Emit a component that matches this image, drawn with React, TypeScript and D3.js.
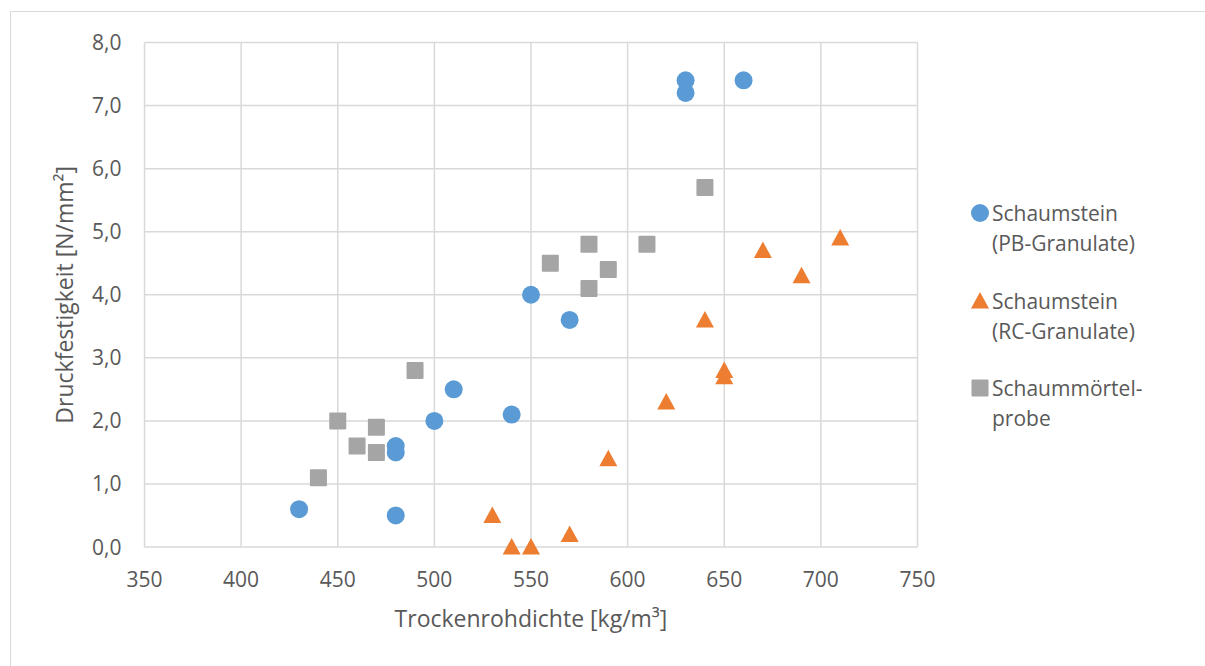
import React from "react";
import * as d3 from "d3";

const W = 1205;
const H = 666;

// Schaumstein (PB-Granulate)
const pbDensity = [430, 480, 480, 480, 500, 510, 540, 550, 570, 630, 630, 660];
const pbStrength = [0.6, 0.5, 1.6, 1.5, 2.0, 2.5, 2.1, 4.0, 3.6, 7.4, 7.2, 7.4];

// Schaumstein (RC-Granulate)
const rcDensity = [530, 540, 550, 570, 590, 620, 640, 650, 650, 670, 690, 710];
const rcStrength = [0.5, 0.0, 0.0, 0.2, 1.4, 2.3, 3.6, 2.8, 2.7, 4.7, 4.3, 4.9];

// Schaummörtelprobe
const smDensity = [440, 450, 460, 470, 470, 490, 560, 580, 580, 590, 610, 640];
const smStrength = [1.1, 2.0, 1.6, 1.9, 1.5, 2.8, 4.5, 4.8, 4.1, 4.4, 4.8, 5.7];

const xTicks = [350, 400, 450, 500, 550, 600, 650, 700, 750];
const yTicks = [0, 1, 2, 3, 4, 5, 6, 7, 8];

const xTitle = "Trockenrohdichte [kg/m³]";
const yTitle = "Druckfestigkeit [N/mm²]";

const legendItems = [
  { lines: ["Schaumstein", "(PB-Granulate)"], shape: "circle", color: "#5B9BD5" },
  { lines: ["Schaumstein", "(RC-Granulate)"], shape: "triangle", color: "#ED7D31" },
  { lines: ["Schaummörtel-", "probe"], shape: "square", color: "#A5A5A5" },
];

const FONT = "'Open Sans', 'Noto Sans', sans-serif";
const TEXT = "#595959";
const GRID = "#D9D9D9";

const plot = { left: 144.5, right: 917.5, top: 42.5, bottom: 547 };

const x = d3.scaleLinear().domain([350, 750]).range([plot.left, plot.right]);
const y = d3.scaleLinear().domain([0, 8]).range([plot.bottom, plot.top]);

const yFmt = (v: number) => d3.format(".1f")(v).replace(".", ",");

function Marker({ shape, cx, cy, color }: { shape: string; cx: number; cy: number; color: string }) {
  if (shape === "circle") return <circle cx={cx} cy={cy} r={9} fill={color} />;
  if (shape === "square")
    return <rect x={cx - 8.5} y={cy - 8.5} width={17} height={17} rx={1} fill={color} />;
  const p = `M${cx},${cy - 9}L${cx + 9},${cy + 7.5}L${cx - 9},${cy + 7.5}Z`;
  return <path d={p} fill={color} />;
}

export default function App() {
  const series = [
    { xs: smDensity, ys: smStrength, ...legendItems[2] },
    { xs: pbDensity, ys: pbStrength, ...legendItems[0] },
    { xs: rcDensity, ys: rcStrength, ...legendItems[1] },
  ];

  return (
    <svg
      width={W}
      height={H}
      style={{ position: "absolute", left: 0, top: 0, background: "#fff" }}
      fontFamily={FONT}
    >
      <rect x={10.5} y={11.5} width={1300} height={800} fill="#fff" stroke={GRID} />

      {/* grid */}
      <g stroke={GRID} strokeWidth={1.5}>
        {xTicks.map((t) => (
          <line key={"gx" + t} x1={x(t)} x2={x(t)} y1={plot.top} y2={plot.bottom} />
        ))}
        {yTicks.map((t) => (
          <line key={"gy" + t} x1={plot.left} x2={plot.right} y1={y(t)} y2={y(t)} />
        ))}
      </g>

      {/* tick labels */}
      <g fill={TEXT} fontSize={21}>
        {xTicks.map((t) => (
          <text key={"tx" + t} x={x(t)} y={plot.bottom + 40} textAnchor="middle">
            {t}
          </text>
        ))}
        {yTicks.map((t) => (
          <text key={"ty" + t} x={plot.left - 23} y={y(t)} dy="0.36em" textAnchor="end">
            {yFmt(t)}
          </text>
        ))}
      </g>

      {/* axis titles */}
      <text x={(plot.left + plot.right) / 2} y={627} textAnchor="middle" fill={TEXT} fontSize={23}>
        {xTitle}
      </text>
      <text
        transform={`translate(73,${(plot.top + plot.bottom) / 2}) rotate(-90)`}
        textAnchor="middle"
        fill={TEXT}
        fontSize={23}
      >
        {yTitle}
      </text>

      {/* points */}
      {series.map((s, si) => (
        <g key={"s" + si}>
          {s.xs.map((d, i) => (
            <Marker key={i} shape={s.shape} cx={x(d)} cy={y(s.ys[i])} color={s.color} />
          ))}
        </g>
      ))}

      {/* legend */}
      {legendItems.map((it, i) => {
        const ly = [213, 301, 388][i];
        return (
          <g key={"l" + i}>
            <Marker shape={it.shape} cx={980} cy={ly} color={it.color} />
            {it.lines.map((ln, j) => (
              <text key={j} x={992} y={ly + j * 30} dy="0.36em" fill={TEXT} fontSize={21}>
                {ln}
              </text>
            ))}
          </g>
        );
      })}
    </svg>
  );
}
